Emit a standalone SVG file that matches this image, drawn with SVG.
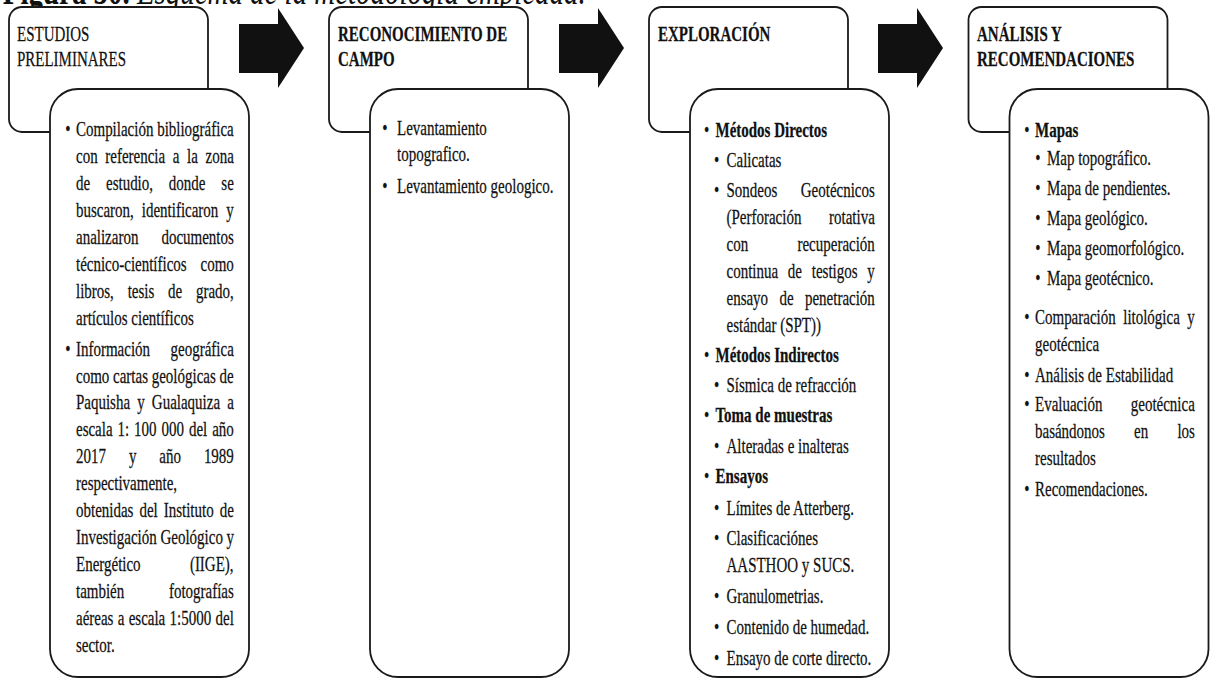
<svg xmlns="http://www.w3.org/2000/svg" width="1211" height="679" viewBox="0 0 1211 679">
<style>
.box{fill:#fff;stroke:#1a1a1a;stroke-width:1.8}
.arrow{fill:#111}
.t{font-family:"Liberation Serif","Times New Roman",serif;font-size:21px;fill:#111;stroke:#111;stroke-width:0.25}
.b{font-weight:bold}
.c{text-anchor:middle}
.cap{font-family:"Liberation Serif","Times New Roman",serif;font-size:40.5px;fill:#111}
</style>
<rect width="1211" height="679" fill="#fff"/>

<g id="caption" transform="scale(0.714 1)">
<text class="cap" x="4" y="4"><tspan font-weight="bold">Figura 30.</tspan><tspan font-style="italic"> Esquema de la metodología empleada.</tspan></text>
</g>

<g id="connectors">
<path class="arrow" d="M239,24 H278 V8 L304,48 L278,88 V73 H239 Z"/>
<path class="arrow" d="M559,24 H598 V8 L624,48 L598,88 V73 H559 Z"/>
<path class="arrow" d="M878,24 H917 V8 L943,48 L917,88 V73 H878 Z"/>
</g>

<g id="node-estudios">
<rect class="box" x="9" y="7" width="199" height="125" rx="13"/>
<rect class="box" x="50" y="89" width="199" height="588" rx="28"/>
<g class="t" transform="scale(0.714 1)">
<text x="23.81" y="41">ESTUDIOS</text>
<text x="23.81" y="66">PRELIMINARES</text>
<text class="c" x="95.24" y="136.5">•</text>
<text x="106.44" y="136.5">Compilación bibliográfica</text>
<text x="106.44" y="163.5" style="word-spacing:5.45px">con referencia a la zona</text>
<text x="106.44" y="190.5" style="word-spacing:16.96px">de estudio, donde se</text>
<text x="106.44" y="217.5" style="word-spacing:5.91px">buscaron, identificaron y</text>
<text x="106.44" y="244.5" style="word-spacing:26.99px">analizaron documentos</text>
<text x="106.44" y="271.5" style="word-spacing:14.15px">técnico-científicos como</text>
<text x="106.44" y="298.5" style="word-spacing:14.04px">libros, tesis de grado,</text>
<text x="106.44" y="325.5">artículos científicos</text>
<text class="c" x="95.24" y="356.5">•</text>
<text x="106.44" y="356.5" style="word-spacing:23.52px">Información geográfica</text>
<text x="106.44" y="383">como cartas geológicas de</text>
<text x="106.44" y="409.5" style="word-spacing:4.72px">Paquisha y Gualaquiza a</text>
<text x="106.44" y="436.5" style="word-spacing:1.66px">escala 1: 100 000 del año</text>
<text x="106.44" y="463.5" style="word-spacing:26.87px">2017 y año 1989</text>
<text x="106.44" y="490.5">respectivamente,</text>
<text x="106.44" y="517.5" style="word-spacing:3.15px">obtenidas del Instituto de</text>
<text x="106.44" y="544.5">Investigación Geológico y</text>
<text x="106.44" y="571.5" style="word-spacing:63.76px">Energético (IIGE),</text>
<text x="106.44" y="598.5" style="word-spacing:57.31px">también fotografías</text>
<text x="106.44" y="625.5" style="word-spacing:0.78px">aéreas a escala 1:5000 del</text>
<text x="106.44" y="652.5">sector.</text>
</g>
</g>

<g id="node-reconocimiento">
<rect class="box" x="329" y="7" width="199" height="125" rx="13"/>
<rect class="box" x="370" y="89" width="199" height="588" rx="28"/>
<g class="t" transform="scale(0.714 1)">
<text class="b" x="473.39" y="41">RECONOCIMIENTO DE</text>
<text class="b" x="473.39" y="66">CAMPO</text>
<text class="c" x="539.22" y="135">•</text>
<text x="556.02" y="135">Levantamiento</text>
<text x="556.02" y="161">topografico.</text>
<text class="c" x="539.22" y="193">•</text>
<text x="556.02" y="193">Levantamiento geologico.</text>
</g>
</g>

<g id="node-exploracion">
<rect class="box" x="649" y="7" width="199" height="125" rx="13"/>
<rect class="box" x="690" y="89" width="199" height="588" rx="28"/>
<g class="t" transform="scale(0.714 1)">
<text class="b" x="921.57" y="41">EXPLORACIÓN</text>
<text class="c" x="989.78" y="137">•</text>
<text class="b" x="1002.1" y="137">Métodos Directos</text>
<text class="c" x="1003.78" y="167">•</text>
<text x="1017.51" y="167">Calicatas</text>
<text class="c" x="1003.78" y="197">•</text>
<text x="1017.51" y="197" style="word-spacing:27.68px">Sondeos Geotécnicos</text>
<text x="1017.51" y="224" style="word-spacing:33.54px">(Perforación rotativa</text>
<text x="1017.51" y="251" style="word-spacing:63.88px">con recuperación</text>
<text x="1017.51" y="278" style="word-spacing:8.44px">continua de testigos y</text>
<text x="1017.51" y="305" style="word-spacing:10.65px">ensayo de penetración</text>
<text x="1017.51" y="332">estándar (SPT))</text>
<text class="c" x="989.78" y="362">•</text>
<text class="b" x="1002.1" y="362">Métodos Indirectos</text>
<text class="c" x="1003.78" y="392">•</text>
<text x="1017.51" y="392">Sísmica de refracción</text>
<text class="c" x="989.78" y="422">•</text>
<text class="b" x="1002.1" y="422">Toma de muestras</text>
<text class="c" x="1003.78" y="453">•</text>
<text x="1017.51" y="453">Alteradas e inalteras</text>
<text class="c" x="989.78" y="483">•</text>
<text class="b" x="1002.1" y="483">Ensayos</text>
<text class="c" x="1003.78" y="515">•</text>
<text x="1017.51" y="515">Límites de Atterberg.</text>
<text class="c" x="1003.78" y="545">•</text>
<text x="1017.51" y="545">Clasificaciónes</text>
<text x="1017.51" y="572">AASTHOO y SUCS.</text>
<text class="c" x="1003.78" y="603">•</text>
<text x="1017.51" y="603">Granulometrias.</text>
<text class="c" x="1003.78" y="634">•</text>
<text x="1017.51" y="634">Contenido de humedad.</text>
<text class="c" x="1003.78" y="665">•</text>
<text x="1017.51" y="665">Ensayo de corte directo.</text>
</g>
</g>

<g id="node-analisis">
<rect class="box" x="968.5" y="7" width="199" height="125" rx="13"/>
<rect class="box" x="1009.5" y="89" width="199" height="588" rx="28"/>
<g class="t" transform="scale(0.714 1)">
<text class="b" x="1368.35" y="41.5">ANÁLISIS Y</text>
<text class="b" x="1368.35" y="66.5">RECOMENDACIONES</text>
<text class="c" x="1438.38" y="137">•</text>
<text class="b" x="1449.58" y="137">Mapas</text>
<text class="c" x="1453.78" y="165">•</text>
<text x="1466.39" y="165">Map topográfico.</text>
<text class="c" x="1453.78" y="195">•</text>
<text x="1466.39" y="195">Mapa de pendientes.</text>
<text class="c" x="1453.78" y="225">•</text>
<text x="1466.39" y="225">Mapa geológico.</text>
<text class="c" x="1453.78" y="255.5">•</text>
<text x="1466.39" y="255.5">Mapa geomorfológico.</text>
<text class="c" x="1453.78" y="285.5">•</text>
<text x="1466.39" y="285.5">Mapa geotécnico.</text>
<text class="c" x="1438.38" y="324">•</text>
<text x="1449.58" y="324" style="word-spacing:5.26px">Comparación litológica y</text>
<text x="1449.58" y="351">geotécnica</text>
<text class="c" x="1438.38" y="382">•</text>
<text x="1449.58" y="382">Análisis de Estabilidad</text>
<text class="c" x="1438.38" y="411">•</text>
<text x="1449.58" y="411" style="word-spacing:34.48px">Evaluación geotécnica</text>
<text x="1449.58" y="438" style="word-spacing:35.6px">basándonos en los</text>
<text x="1449.58" y="465">resultados</text>
<text class="c" x="1438.38" y="496">•</text>
<text x="1449.58" y="496">Recomendaciones.</text>
</g>
</g>
</svg>
